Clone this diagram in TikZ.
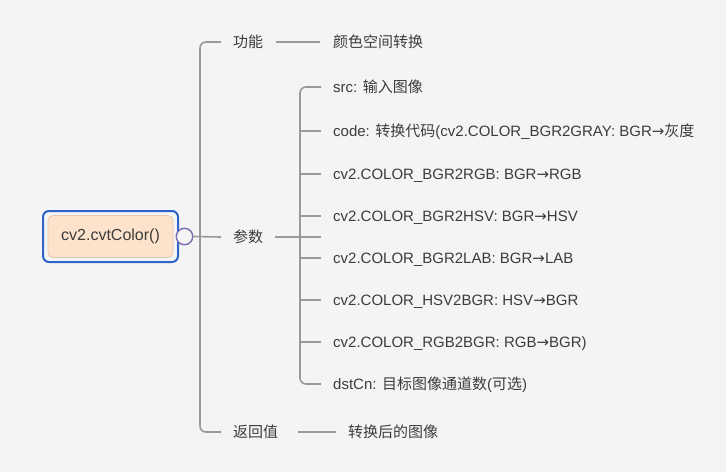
\documentclass[tikz,border=0pt]{standalone}
\usepackage{fontspec}
\setmainfont{Liberation Sans}
\newfontfamily\cjkf{Noto Sans CJK SC}
\newfontfamily\arrf{DejaVu Sans}
\newcommand{\zhs}[1]{{\cjkf #1}}
\newcommand{\ra}{{\arrf →}}
\definecolor{bg}{HTML}{F4F4F4}
\definecolor{txt}{HTML}{3C3C3C}
\definecolor{ln}{HTML}{9A9A9A}
\definecolor{rootblue}{HTML}{2E64C8}
\definecolor{peach}{HTML}{FDE3CC}
\definecolor{peachb}{HTML}{E2C7B2}
\definecolor{circ}{HTML}{7A6CB0}
\begin{document}
\begin{tikzpicture}[x=1pt,y=-1pt,
  lbl/.style={anchor=base west,inner sep=0pt,text=txt,font=\fontsize{15}{17}\selectfont},
  conn/.style={draw=ln,line width=1.6pt},
]
\useasboundingbox[fill=bg] (0,0) rectangle (726,472);
% root
\draw[rootblue,line width=2pt,rounded corners=6pt] (43,211) rectangle (178,262);
\node[draw=peachb,fill=peach,line width=0.8pt,rounded corners=5pt,minimum width=125pt,minimum height=42pt,inner sep=0pt,text=txt,font=\fontsize{16}{18}\selectfont] (root) at (110.5,236.5) {cv2.cvtColor()};
\node[circle,draw=circ,fill=bg,line width=1.4pt,minimum size=16.5pt,inner sep=0pt] (knob) at (184.5,236.5) {};
% level 1
\coordinate (j1) at (200,237);
\node[lbl] (f) at (233,47) {\zhs{功能}};
\node[lbl] (p) at (233,242) {\zhs{参数}};
\node[lbl] (r) at (233,437) {\zhs{返回值}};
\draw[conn,rounded corners=6pt] (221,42) -- (200,42) -- (200,432) -- (221,432);
\draw[conn] (knob.east) -- (221,237);
% function
\node[lbl] (fv) at (333,47) {\zhs{颜色空间转换}};
\draw[conn] (276,42) -- (320,42);
% return
\node[lbl] (rv) at (348,437) {\zhs{转换后的图像}};
\draw[conn] (298,432) -- (336,432);
% params
\node[lbl] (c1) at (333,92) {src: \zhs{输入图像}};
\node[lbl] (c2) at (333,136) {code: \zhs{转换代码}(cv2.COLOR\_BGR2GRAY: BGR\ra\zhs{灰度}};
\node[lbl] (c3) at (333,179) {cv2.COLOR\_BGR2RGB: BGR\ra RGB};
\node[lbl] (c4) at (333,221) {cv2.COLOR\_BGR2HSV: BGR\ra HSV};
\node[lbl] (c5) at (333,263) {cv2.COLOR\_BGR2LAB: BGR\ra LAB};
\node[lbl] (c6) at (333,305) {cv2.COLOR\_HSV2BGR: HSV\ra BGR};
\node[lbl] (c7) at (333,347) {cv2.COLOR\_RGB2BGR: RGB\ra BGR)};
\node[lbl] (c8) at (333,389) {dstCn: \zhs{目标图像通道数}(\zhs{可选})};
\coordinate (j2) at (300,237);
\draw[conn] (275,237) -- (321,237);
\draw[conn,rounded corners=6pt] (321,87) -- (300,87) -- (300,384) -- (321,384);
\foreach \c/\y in {c2/131,c3/174,c4/216,c5/258,c6/300,c7/342}{
  \draw[conn] (300,\y) -- (321,\y);
}
\end{tikzpicture}
\end{document}
